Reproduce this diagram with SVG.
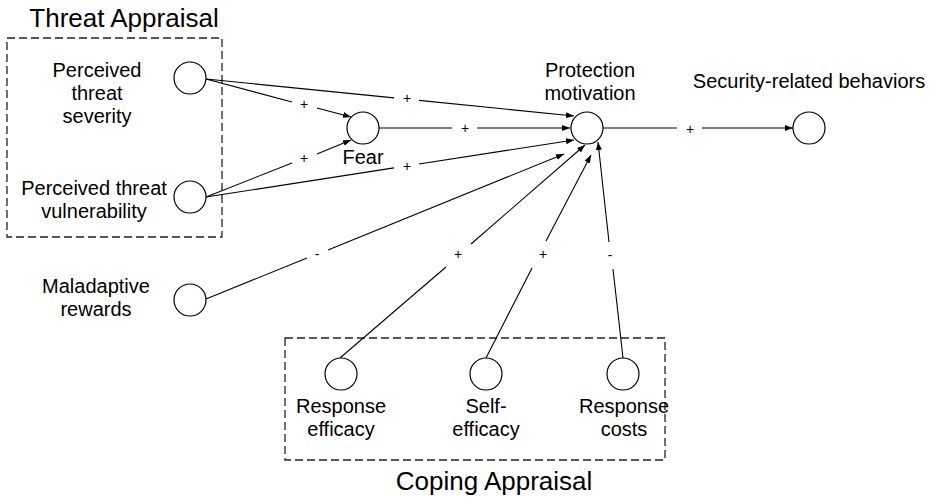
<svg xmlns="http://www.w3.org/2000/svg" width="931" height="497" viewBox="0 0 931 497">
<defs>
<marker id="arr" markerUnits="userSpaceOnUse" markerWidth="9" markerHeight="7" refX="8" refY="3" orient="auto">
<path d="M0,0 L8,3 L0,6 z" fill="#000"/>
</marker>
<style>
.lbl{font-family:"Liberation Sans",Arial,sans-serif;font-size:20px;fill:#000;text-anchor:middle}
.title{font-family:"Liberation Sans",Arial,sans-serif;font-size:26px;fill:#000;text-anchor:middle}
.sign{font-family:"Liberation Sans",Arial,sans-serif;font-size:14px;fill:#000;text-anchor:middle}
.node{fill:#fff;stroke:#000;stroke-width:1.2}
.box{fill:none;stroke:#222;stroke-width:1.3;stroke-dasharray:8,4}
.edge line{stroke:#000;stroke-width:1.1}
.edge line.a{marker-end:url(#arr)}
</style>
</defs>
<rect width="931" height="497" fill="#fff"/>

<g id="groups">
<rect class="box" x="7" y="38" width="215" height="199"/>
<text class="title" x="124" y="27">Threat Appraisal</text>
<rect class="box" x="285" y="338" width="380" height="122"/>
<text class="title" x="494" y="490">Coping Appraisal</text>
</g>

<g id="connectors" class="edge">
<line x1="206" y1="79" x2="394" y2="97.9"/><line class="a" x1="419" y1="100.4" x2="574" y2="116"/>
<text class="sign" x="407" y="103">+</text>
<line x1="206" y1="79" x2="292" y2="102"/><line class="a" x1="317" y1="108" x2="351" y2="117"/>
<text class="sign" x="304" y="109">+</text>
<line x1="206" y1="197" x2="292" y2="163"/><line class="a" x1="317" y1="154" x2="351" y2="140"/>
<text class="sign" x="304" y="163">+</text>
<line x1="206" y1="197" x2="394" y2="167.9"/><line class="a" x1="419" y1="164" x2="574" y2="140"/>
<text class="sign" x="407" y="171">+</text>
<line x1="379" y1="128" x2="452" y2="128"/><line class="a" x1="477" y1="128" x2="570" y2="128"/>
<text class="sign" x="465" y="133">+</text>
<line x1="603" y1="128" x2="677" y2="128"/><line class="a" x1="702" y1="128" x2="793" y2="128"/>
<text class="sign" x="690" y="134">+</text>
<line x1="206" y1="299" x2="307" y2="258"/><line class="a" x1="328" y1="250" x2="564" y2="154"/>
<text class="sign" x="317" y="259">-</text>
<line x1="340" y1="358" x2="446" y2="267"/><line class="a" x1="471" y1="244" x2="585" y2="145"/>
<text class="sign" x="458" y="259">+</text>
<line x1="486" y1="358" x2="532" y2="268"/><line class="a" x1="546" y1="241" x2="591" y2="155"/>
<text class="sign" x="543" y="259">+</text>
<line x1="623" y1="358" x2="613" y2="269"/><line class="a" x1="609" y1="242" x2="598" y2="142"/>
<text class="sign" x="610" y="260">-</text>
</g>

<g id="severity">
<circle class="node" cx="190" cy="78" r="16"/>
<text class="lbl" x="97" y="77">Perceived</text>
<text class="lbl" x="97" y="100">threat</text>
<text class="lbl" x="97" y="123">severity</text>
</g>
<g id="vulnerability">
<circle class="node" cx="190" cy="197" r="16"/>
<text class="lbl" x="94" y="195">Perceived threat</text>
<text class="lbl" x="94" y="218">vulnerability</text>
</g>
<g id="maladaptive">
<circle class="node" cx="190" cy="300" r="16"/>
<text class="lbl" x="96" y="293">Maladaptive</text>
<text class="lbl" x="96" y="316">rewards</text>
</g>
<g id="fear">
<circle class="node" cx="363" cy="128" r="16"/>
<text class="lbl" x="363" y="164">Fear</text>
</g>
<g id="protection">
<circle class="node" cx="587" cy="128" r="16"/>
<text class="lbl" x="590" y="77">Protection</text>
<text class="lbl" x="590" y="100">motivation</text>
</g>
<g id="behaviors">
<circle class="node" cx="809" cy="128" r="16"/>
<text class="lbl" x="809" y="88">Security-related behaviors</text>
</g>
<g id="response-efficacy">
<circle class="node" cx="341" cy="374" r="16"/>
<text class="lbl" x="341" y="413">Response</text>
<text class="lbl" x="341" y="436">efficacy</text>
</g>
<g id="self-efficacy">
<circle class="node" cx="486" cy="374" r="16"/>
<text class="lbl" x="486" y="413">Self-</text>
<text class="lbl" x="486" y="436">efficacy</text>
</g>
<g id="response-costs">
<circle class="node" cx="623" cy="374" r="16"/>
<text class="lbl" x="624" y="413">Response</text>
<text class="lbl" x="624" y="436">costs</text>
</g>
</svg>
